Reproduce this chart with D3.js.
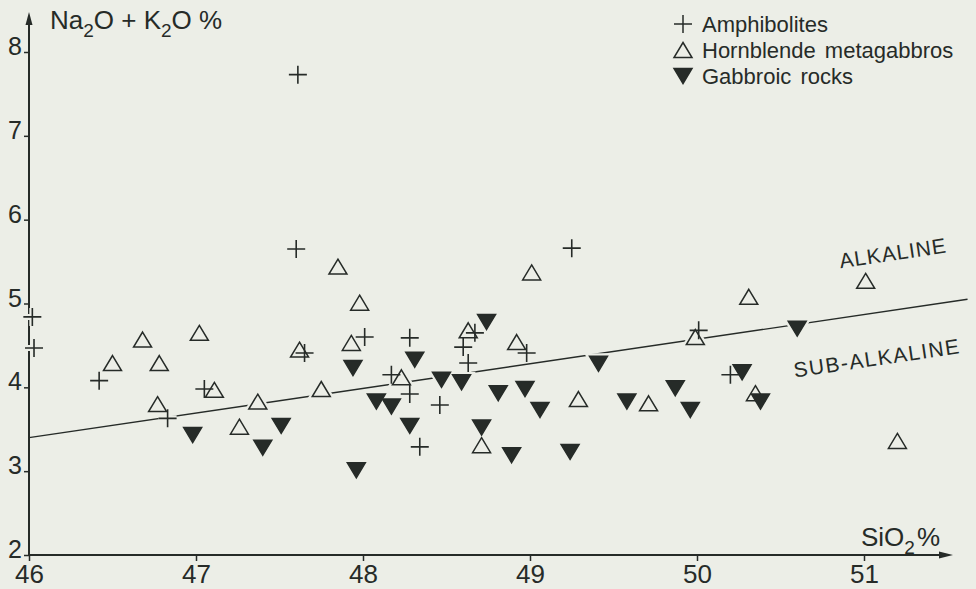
<!DOCTYPE html>
<html>
<head>
<meta charset="utf-8">
<script src="https://cdn.jsdelivr.net/npm/d3@7/dist/d3.min.js"></script>
<style>
  body { margin: 0; background: #eceee7; }
  text { font-family: "Liberation Sans", Arial, sans-serif; fill: #262b28; }
  .axis path, .axis line { stroke: #262b28; }
</style>
</head>
<body>
<div id="chart"></div>
<script>
/* SiO2 % vs Na2O + K2O % */
var amphibolites = [
  [46.02, 4.84], [46.03, 4.47], [46.42, 4.08], [46.83, 3.63], [47.05, 3.98],
  [47.61, 7.73], [47.60, 5.65], [47.65, 4.41], [48.01, 4.60], [48.28, 4.59],
  [48.17, 4.15], [48.28, 3.92], [48.46, 3.79], [48.34, 3.29], [48.60, 4.48],
  [48.63, 4.29], [48.67, 4.65], [48.98, 4.41], [49.25, 5.66], [50.01, 4.68],
  [50.20, 4.15]
];

var metagabbros = [
  [46.50, 4.29], [46.68, 4.57], [46.78, 4.29], [47.02, 4.65], [47.11, 3.97],
  [46.77, 3.80], [47.37, 3.83], [47.26, 3.53], [47.75, 3.98], [47.62, 4.45],
  [47.85, 5.44], [47.98, 5.01], [47.93, 4.53], [48.23, 4.12], [48.63, 4.68],
  [48.92, 4.54], [49.01, 5.37], [49.29, 3.86], [48.71, 3.31], [49.71, 3.81],
  [50.31, 5.08], [51.01, 5.27], [49.99, 4.60], [50.35, 3.93], [51.20, 3.36]
];

var gabbroic = [
  [46.98, 3.43], [47.40, 3.28], [47.51, 3.54], [47.96, 3.01], [48.08, 3.83],
  [48.17, 3.77], [48.28, 3.54], [47.94, 4.23], [48.31, 4.33], [48.47, 4.09],
  [48.59, 4.06], [48.74, 4.78], [48.81, 3.93], [48.97, 3.98], [49.06, 3.73],
  [48.71, 3.52], [48.89, 3.19], [49.24, 3.23], [49.41, 4.28], [49.58, 3.83],
  [49.87, 3.99], [49.96, 3.73], [50.38, 3.83], [50.60, 4.70], [50.27, 4.18]
];

/* alkaline / sub-alkaline divide */
var divideX = [46, 51.62],
    divideY = [3.40, 5.05];

var xTicks = [46, 47, 48, 49, 50, 51],
    yTicks = [2, 3, 4, 5, 6, 7, 8];

var legendItems = [
  {name: "Amphibolites", kind: "plus"},
  {name: "Hornblende metagabbros", kind: "up"},
  {name: "Gabbroic rocks", kind: "down"}
];

var ink = "#262b28",
    paper = "#eceee7";

var width = 976,
    height = 589;

var x = d3.scaleLinear().domain([46, 51]).range([29, 864]),
    y = d3.scaleLinear().domain([2, 8]).range([555, 52]);

var svg = d3.select("#chart").append("svg")
    .attr("width", width)
    .attr("height", height);

svg.append("rect")
    .attr("width", width)
    .attr("height", height)
    .attr("fill", paper);

/* marker shapes, centred on their bounding box */
function markPath(kind) {
  var s = 18, h = 15;
  if (kind == "up") {
    return "M0," + (-h / 2) + "L" + (s / 2) + "," + (h / 2) + "L" + (-s / 2) + "," + (h / 2) + "Z";
  } else if (kind == "down") {
    return "M0," + (h / 2) + "L" + (s / 2) + "," + (-h / 2) + "L" + (-s / 2) + "," + (-h / 2) + "Z";
  }
  return "M-9,0H9M0,-9V9";
}

/* axes */
var xAxis = d3.axisBottom(x).tickValues(xTicks).tickSize(6).tickPadding(4).tickFormat(d3.format("d")),
    yAxis = d3.axisLeft(y).tickValues(yTicks).tickSize(5).tickPadding(2).tickFormat(d3.format("d"));

var gX = svg.append("g")
    .attr("class", "axis axis--x")
    .attr("transform", "translate(0," + y(2) + ")")
    .call(xAxis);

gX.select(".domain").remove();
gX.selectAll("text")
    .attr("font-size", 26)
    .attr("y", 10)
    .attr("dy", "0.71em")
    .style("fill", ink);

var gY = svg.append("g")
    .attr("class", "axis axis--y")
    .attr("transform", "translate(" + x(46) + ",0)")
    .call(yAxis);

gY.select(".domain").remove();
gY.selectAll("text")
    .attr("font-size", 25)
    .attr("dy", "0.1em")
    .style("fill", ink);
gY.selectAll("line").attr("stroke-width", 1.5);
gX.selectAll("line").attr("stroke-width", 1.5);

/* axis lines with arrow heads */
svg.append("line")
    .attr("x1", x(46)).attr("y1", y(2))
    .attr("x2", x(46)).attr("y2", 16)
    .attr("stroke", ink).attr("stroke-width", 2);
svg.append("path")
    .attr("d", "M" + x(46) + ",12l-3.5,13h7z")
    .attr("fill", ink);

svg.append("line")
    .attr("x1", x(46)).attr("y1", y(2))
    .attr("x2", 948).attr("y2", y(2))
    .attr("stroke", ink).attr("stroke-width", 2);
svg.append("path")
    .attr("d", "M953," + y(2) + "l-14,-3.5v7z")
    .attr("fill", ink);

/* axis titles */
var yTitle = svg.append("text")
    .attr("x", 50)
    .attr("y", 29)
    .attr("font-size", 26);
yTitle.append("tspan").text("Na");
yTitle.append("tspan").attr("dy", 8).attr("font-size", 19).text("2");
yTitle.append("tspan").attr("dy", -8).text("O + K");
yTitle.append("tspan").attr("dy", 8).attr("font-size", 19).text("2");
yTitle.append("tspan").attr("dy", -8).text("O %");

var xTitle = svg.append("text")
    .attr("x", 861)
    .attr("y", 546)
    .attr("font-size", 26);
xTitle.append("tspan").text("SiO");
xTitle.append("tspan").attr("dy", 8).attr("font-size", 19).text("2");
xTitle.append("tspan").attr("dy", -8).attr("dx", 2).text("%");

/* dividing line */
var line = d3.line()
    .x(function(d) { return x(d[0]); })
    .y(function(d) { return y(d[1]); });

svg.append("path")
    .datum(d3.zip(divideX, divideY))
    .attr("d", line)
    .attr("fill", "none")
    .attr("stroke", ink)
    .attr("stroke-width", 1.4);

var angle = Math.atan2(y(divideY[1]) - y(divideY[0]), x(divideX[1]) - x(divideX[0])) * 180 / Math.PI;

svg.append("text")
    .attr("transform", "translate(893,253) rotate(" + angle + ")")
    .attr("text-anchor", "middle")
    .attr("dy", "0.35em")
    .attr("font-size", 21)
    .attr("letter-spacing", 1)
    .text("ALKALINE");

svg.append("text")
    .attr("transform", "translate(877,358) rotate(" + angle + ")")
    .attr("text-anchor", "middle")
    .attr("dy", "0.35em")
    .attr("font-size", 21)
    .attr("letter-spacing", 1.5)
    .text("SUB-ALKALINE");

/* points: halos first, so the divide line breaks around marks */
var series = [
  {data: amphibolites, kind: "plus"},
  {data: metagabbros, kind: "up"},
  {data: gabbroic, kind: "down"}
];

var halo = svg.append("g").attr("class", "halo");
series.forEach(function(s) {
  halo.selectAll(null)
      .data(s.data)
    .enter().append("path")
      .attr("transform", function(d) { return "translate(" + x(d[0]) + "," + y(d[1]) + ")"; })
      .attr("d", markPath(s.kind))
      .attr("fill", s.kind == "plus" ? "none" : paper)
      .attr("stroke", paper)
      .attr("stroke-width", 6);
});

var marks = svg.append("g").attr("class", "marks");
series.forEach(function(s) {
  marks.selectAll(null)
      .data(s.data)
    .enter().append("path")
      .attr("class", "pt " + s.kind)
      .attr("transform", function(d) { return "translate(" + x(d[0]) + "," + y(d[1]) + ")"; })
      .attr("d", markPath(s.kind))
      .attr("fill", s.kind == "down" ? ink : "none")
      .attr("stroke", ink)
      .attr("stroke-width", s.kind == "plus" ? 1.6 : 1.5)
      .attr("stroke-linejoin", "miter");
});

/* legend */
var legend = svg.append("g")
    .attr("transform", "translate(683,24)");

var item = legend.selectAll("g")
    .data(legendItems)
  .enter().append("g")
    .attr("transform", function(d, i) { return "translate(0," + (i * 26) + ")"; });

item.append("path")
    .attr("d", function(d) {
      return markPath(d.kind);
    })
    .attr("fill", function(d) { return d.kind == "down" ? ink : "none"; })
    .attr("stroke", ink)
    .attr("stroke-width", 1.5);

item.append("text")
    .attr("x", 19)
    .attr("dy", "0.35em")
    .attr("font-size", 22)
    .attr("word-spacing", 3)
    .text(function(d) { return d.name; });
</script>
</body>
</html>
